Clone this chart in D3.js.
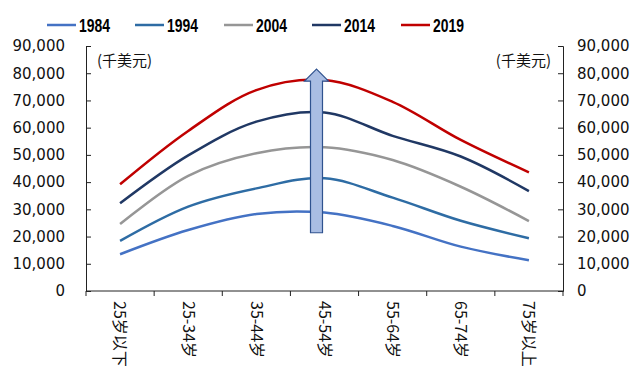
<!DOCTYPE html>
<html>
<head>
<meta charset="utf-8">
<script src="https://cdn.jsdelivr.net/npm/d3@7"></script>
<style>
  body { margin: 0; background: #fff; }
  .axis text { font-family: "DejaVu Sans", sans-serif; font-size: 15px; fill: #111; }
  .axis path, .axis line { stroke: #222; }
  .xlab { font-family: "Noto Sans CJK SC", sans-serif; font-size: 16px; fill: #111; }
  .unit { font-family: "Noto Sans CJK SC", sans-serif; font-size: 15px; fill: #111; }
  .legend text { font-family: "Liberation Sans", Arial, sans-serif; font-weight: bold; font-size: 19px; fill: #000; }
</style>
</head>
<body>
<div id="chart"></div>
<script>
// age groups and yearly income by age (thousand USD)
var ages = ["25岁以下", "25-34岁", "35-44岁", "45-54岁", "55-64岁", "65-74岁", "75岁以上"];
var years = ["1984", "1994", "2004", "2014", "2019"];
var v1984 = [13500, 22400, 28300, 28800, 23900, 16300, 11300];
var v1994 = [18400, 31000, 37700, 41400, 34300, 25800, 19400];
var v2004 = [24600, 42300, 50600, 52800, 48100, 38300, 25700];
var v2014 = [32200, 49800, 62200, 65600, 57000, 49400, 36700];
var v2019 = [39200, 58800, 73800, 77500, 69500, 55500, 43600];
var yTicks = [0, 10000, 20000, 30000, 40000, 50000, 60000, 70000, 80000, 90000];
var arrowFrom = 21400, arrowTo = 81500;

var colors = ["#4472C4", "#2E6CA4", "#969696", "#203864", "#C00000"];
var series = [v1984, v1994, v2004, v2014, v2019];

function drawChart() {
  var w = 632, h = 369;
  var pl = 86, pr = 563, pt = 46, pb = 291;

  var svg = d3.select("#chart").append("svg")
    .attr("width", w).attr("height", h);

  var xScale = d3.scaleBand().domain(ages).range([pl, pr]);
  var yScale = d3.scaleLinear().domain([0, 90000]).range([pb, pt]);

  var fmt = d3.format(",");

  // left axis
  svg.append("g")
    .attr("class", "axis")
    .attr("transform", "translate(" + pl + ",0)")
    .call(d3.axisLeft(yScale).tickValues(yTicks).tickFormat(fmt).tickSizeInner(-5).tickSizeOuter(-5).tickPadding(21));

  // right axis
  svg.append("g")
    .attr("class", "axis")
    .attr("transform", "translate(" + pr + ",0)")
    .call(d3.axisRight(yScale).tickValues(yTicks).tickFormat(fmt).tickSizeInner(-5).tickSizeOuter(-5).tickPadding(14));

  // x axis, ticks at band edges
  var xg = svg.append("g")
    .attr("class", "axis")
    .attr("transform", "translate(0," + pb + ")");
  xg.append("line").attr("x1", pl).attr("x2", pr).attr("stroke", "#222");
  var edges = ages.map(function(d) { return xScale(d); }).concat([pr]);
  xg.selectAll(".tk").data(edges).enter().append("line")
    .attr("x1", function(d) { return d; }).attr("x2", function(d) { return d; })
    .attr("y1", 0).attr("y2", 5).attr("stroke", "#222");

  svg.selectAll(".xlab").data(ages).enter().append("text")
    .attr("class", "xlab")
    .attr("transform", function(d) {
      return "translate(" + (xScale(d) + xScale.bandwidth() / 2) + "," + (pb + 10) + ") rotate(90)";
    })
    .attr("dy", "0.35em")
    .text(function(d) { return d; });

  // unit labels
  svg.append("text").attr("class", "unit").attr("x", 97).attr("y", 66).text("(千美元)");
  svg.append("text").attr("class", "unit").attr("x", 551).attr("y", 66).attr("text-anchor", "end").text("(千美元)");

  // lines
  var line = d3.line()
    .x(function(d, i) { return xScale(ages[i]) + xScale.bandwidth() / 2; })
    .y(function(d) { return yScale(d); })
    .curve(d3.curveCatmullRom.alpha(0.5));

  series.forEach(function(s, i) {
    svg.append("path")
      .datum(s)
      .attr("fill", "none")
      .attr("stroke", colors[i])
      .attr("stroke-width", 2.5)
      .attr("d", line);
  });

  // arrow annotation
  var ax = xScale("45-54岁") + xScale.bandwidth() / 2 - 8;
  var yb = yScale(arrowFrom), yt = yScale(arrowTo), yh = yt + 12;
  svg.append("path")
    .attr("d", "M" + (ax - 6) + "," + yb + "L" + (ax - 6) + "," + yh + "L" + (ax - 12) + "," + yh +
      "L" + ax + "," + yt + "L" + (ax + 12) + "," + yh + "L" + (ax + 6) + "," + yh + "L" + (ax + 6) + "," + yb + "Z")
    .attr("fill", "#A9BDE3")
    .attr("stroke", "#2F528F")
    .attr("stroke-width", 1.2);

  // legend
  var lx = [47, 135, 224, 312, 401];
  var lg = svg.append("g").attr("class", "legend");
  years.forEach(function(y, i) {
    lg.append("line").attr("x1", lx[i]).attr("x2", lx[i] + 29).attr("y1", 25).attr("y2", 25)
      .attr("stroke", colors[i]).attr("stroke-width", 2.5);
    lg.append("text").attr("x", lx[i] + 32).attr("y", 32)
      .attr("textLength", 31).attr("lengthAdjust", "spacingAndGlyphs")
      .text(y);
  });
}

drawChart();
</script>
</body>
</html>
